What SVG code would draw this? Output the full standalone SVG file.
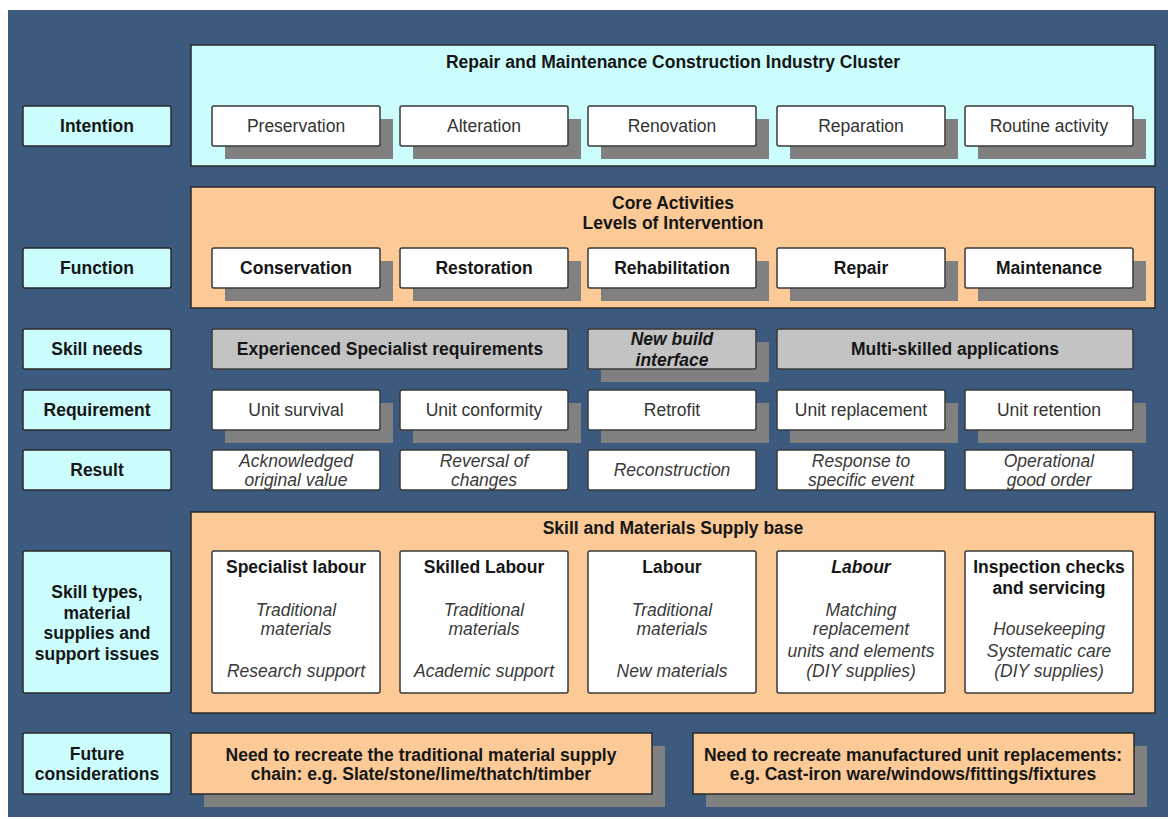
<svg xmlns="http://www.w3.org/2000/svg" width="1168" height="819" viewBox="0 0 1168 819">
<style>
text{font-family:"Liberation Sans",Arial,sans-serif;font-size:17.5px;text-anchor:middle;dominant-baseline:central;fill:#333}
.b{font-weight:bold;fill:#161616}
.i{font-style:italic;fill:#3a3a3a}
.bi{font-weight:bold;font-style:italic;fill:#161616}
.cy{fill:#ccfdfd;stroke:#2a2a2a;stroke-width:1.5}
.or{fill:#fbca97;stroke:#2a2a2a;stroke-width:1.5}
.wh{fill:#ffffff;stroke:#3a3a3a;stroke-width:1.5}
.gr{fill:#c3c3c3;stroke:#3a3a3a;stroke-width:1.5}
.sh{fill:#808080}
</style>
<rect x="0" y="0" width="1168" height="819" fill="#ffffff"/>
<rect x="8" y="10" width="1160" height="807" fill="#3c5a7e"/>

<!-- left labels -->
<g id="lbl-intention"><rect class="cy" x="23" y="106" width="148" height="40" rx="2"/><text class="b" x="97" y="126">Intention</text></g>
<g id="lbl-function"><rect class="cy" x="23" y="248" width="148" height="40" rx="2"/><text class="b" x="97" y="268">Function</text></g>
<g id="lbl-skillneeds"><rect class="cy" x="23" y="329" width="148" height="40" rx="2"/><text class="b" x="97" y="349">Skill needs</text></g>
<g id="lbl-requirement"><rect class="cy" x="23" y="390" width="148" height="40" rx="2"/><text class="b" x="97" y="410">Requirement</text></g>
<g id="lbl-result"><rect class="cy" x="23" y="450" width="148" height="40" rx="2"/><text class="b" x="97" y="470">Result</text></g>
<g id="lbl-skilltypes"><rect class="cy" x="23" y="551" width="148" height="142" rx="2"/>
<text class="b" x="97" y="592">Skill types,</text><text class="b" x="97" y="612.5">material</text><text class="b" x="97" y="633">supplies and</text><text class="b" x="97" y="654">support issues</text></g>
<g id="lbl-future"><rect class="cy" x="23" y="733" width="148" height="61" rx="2"/><text class="b" x="97" y="754">Future</text><text class="b" x="97" y="774">considerations</text></g>

<!-- Intention panel -->
<g id="panel-intention"><rect class="cy" x="191" y="45" width="964" height="121"/><text class="b" x="673" y="62">Repair and Maintenance Construction Industry Cluster</text></g>
<g id="preservation"><rect class="sh" x="225" y="119" width="168" height="40"/><rect class="wh" x="212" y="106" width="168" height="40" rx="2"/><text x="296" y="126">Preservation</text></g>
<g id="alteration"><rect class="sh" x="413" y="119" width="168" height="40"/><rect class="wh" x="400" y="106" width="168" height="40" rx="2"/><text x="484" y="126">Alteration</text></g>
<g id="renovation"><rect class="sh" x="601" y="119" width="168" height="40"/><rect class="wh" x="588" y="106" width="168" height="40" rx="2"/><text x="672" y="126">Renovation</text></g>
<g id="reparation"><rect class="sh" x="790" y="119" width="168" height="40"/><rect class="wh" x="777" y="106" width="168" height="40" rx="2"/><text x="861" y="126">Reparation</text></g>
<g id="routine"><rect class="sh" x="978" y="119" width="168" height="40"/><rect class="wh" x="965" y="106" width="168" height="40" rx="2"/><text x="1049" y="126">Routine activity</text></g>

<!-- Core panel -->
<g id="panel-core"><rect class="or" x="191" y="187" width="964" height="121"/><text class="b" x="673" y="203">Core Activities</text><text class="b" x="673" y="223">Levels of Intervention</text></g>
<g id="conservation"><rect class="sh" x="225" y="261" width="168" height="40"/><rect class="wh" x="212" y="248" width="168" height="40" rx="2"/><text class="b" x="296" y="268">Conservation</text></g>
<g id="restoration"><rect class="sh" x="413" y="261" width="168" height="40"/><rect class="wh" x="400" y="248" width="168" height="40" rx="2"/><text class="b" x="484" y="268">Restoration</text></g>
<g id="rehabilitation"><rect class="sh" x="601" y="261" width="168" height="40"/><rect class="wh" x="588" y="248" width="168" height="40" rx="2"/><text class="b" x="672" y="268">Rehabilitation</text></g>
<g id="repair"><rect class="sh" x="790" y="261" width="168" height="40"/><rect class="wh" x="777" y="248" width="168" height="40" rx="2"/><text class="b" x="861" y="268">Repair</text></g>
<g id="maintenance"><rect class="sh" x="978" y="261" width="168" height="40"/><rect class="wh" x="965" y="248" width="168" height="40" rx="2"/><text class="b" x="1049" y="268">Maintenance</text></g>

<!-- Skill needs -->
<g id="experienced"><rect class="gr" x="212" y="329" width="356" height="40" rx="2"/><text class="b" x="390" y="349">Experienced Specialist requirements</text></g>
<g id="newbuild"><rect class="sh" x="601" y="342" width="168" height="40"/><rect class="gr" x="588" y="329" width="168" height="40" rx="2"/><text class="bi" x="672" y="339">New build</text><text class="bi" x="672" y="360">interface</text></g>
<g id="multiskilled"><rect class="gr" x="777" y="329" width="356" height="40" rx="2"/><text class="b" x="955" y="349">Multi-skilled applications</text></g>

<!-- Requirement -->
<g id="unit-survival"><rect class="sh" x="225" y="403" width="168" height="40"/><rect class="wh" x="212" y="390" width="168" height="40" rx="2"/><text x="296" y="410">Unit survival</text></g>
<g id="unit-conformity"><rect class="sh" x="413" y="403" width="168" height="40"/><rect class="wh" x="400" y="390" width="168" height="40" rx="2"/><text x="484" y="410">Unit conformity</text></g>
<g id="retrofit"><rect class="sh" x="601" y="403" width="168" height="40"/><rect class="wh" x="588" y="390" width="168" height="40" rx="2"/><text x="672" y="410">Retrofit</text></g>
<g id="unit-replacement"><rect class="sh" x="790" y="403" width="168" height="40"/><rect class="wh" x="777" y="390" width="168" height="40" rx="2"/><text x="861" y="410">Unit replacement</text></g>
<g id="unit-retention"><rect class="sh" x="978" y="403" width="168" height="40"/><rect class="wh" x="965" y="390" width="168" height="40" rx="2"/><text x="1049" y="410">Unit retention</text></g>

<!-- Result -->
<g id="res1"><rect class="wh" x="212" y="450" width="168" height="40" rx="2"/><text class="i" x="296" y="461">Acknowledged</text><text class="i" x="296" y="480">original value</text></g>
<g id="res2"><rect class="wh" x="400" y="450" width="168" height="40" rx="2"/><text class="i" x="484" y="461">Reversal of</text><text class="i" x="484" y="480">changes</text></g>
<g id="res3"><rect class="wh" x="588" y="450" width="168" height="40" rx="2"/><text class="i" x="672" y="470">Reconstruction</text></g>
<g id="res4"><rect class="wh" x="777" y="450" width="168" height="40" rx="2"/><text class="i" x="861" y="461">Response to</text><text class="i" x="861" y="480">specific event</text></g>
<g id="res5"><rect class="wh" x="965" y="450" width="168" height="40" rx="2"/><text class="i" x="1049" y="461">Operational</text><text class="i" x="1049" y="480">good order</text></g>

<!-- Skill and materials panel -->
<g id="panel-supply"><rect class="or" x="191" y="512" width="964" height="201"/><text class="b" x="673" y="528">Skill and Materials Supply base</text></g>
<g id="specialist"><rect class="wh" x="212" y="551" width="168" height="142" rx="2"/>
<text class="b" x="296" y="567">Specialist labour</text><text class="i" x="296" y="610">Traditional</text><text class="i" x="296" y="629">materials</text><text class="i" x="296" y="671">Research support</text></g>
<g id="skilled"><rect class="wh" x="400" y="551" width="168" height="142" rx="2"/>
<text class="b" x="484" y="567">Skilled Labour</text><text class="i" x="484" y="610">Traditional</text><text class="i" x="484" y="629">materials</text><text class="i" x="484" y="671">Academic support</text></g>
<g id="labour"><rect class="wh" x="588" y="551" width="168" height="142" rx="2"/>
<text class="b" x="672" y="567">Labour</text><text class="i" x="672" y="610">Traditional</text><text class="i" x="672" y="629">materials</text><text class="i" x="672" y="671">New materials</text></g>
<g id="labour-diy"><rect class="wh" x="777" y="551" width="168" height="142" rx="2"/>
<text class="bi" x="861" y="567">Labour</text><text class="i" x="861" y="610">Matching</text><text class="i" x="861" y="629">replacement</text><text class="i" x="861" y="651">units and elements</text><text class="i" x="861" y="671">(DIY supplies)</text></g>
<g id="inspection"><rect class="wh" x="965" y="551" width="168" height="142" rx="2"/>
<text class="b" x="1049" y="567">Inspection checks</text><text class="b" x="1049" y="588">and servicing</text><text class="i" x="1049" y="629">Housekeeping</text><text class="i" x="1049" y="651">Systematic care</text><text class="i" x="1049" y="671">(DIY supplies)</text></g>

<!-- Future -->
<g id="future-traditional"><rect class="sh" x="204" y="746" width="461" height="61"/><rect class="or" x="191" y="733" width="461" height="61"/><text class="b" x="421" y="755">Need to recreate the traditional material supply</text><text class="b" x="421" y="774">chain: e.g. Slate/stone/lime/thatch/timber</text></g>
<g id="future-manufactured"><rect class="sh" x="706" y="746" width="441" height="61"/><rect class="or" x="693" y="733" width="441" height="61"/><text class="b" x="913" y="755">Need to recreate manufactured unit replacements:</text><text class="b" x="913" y="774">e.g. Cast-iron ware/windows/fittings/fixtures</text></g>

<g id="connectors"/>
</svg>
